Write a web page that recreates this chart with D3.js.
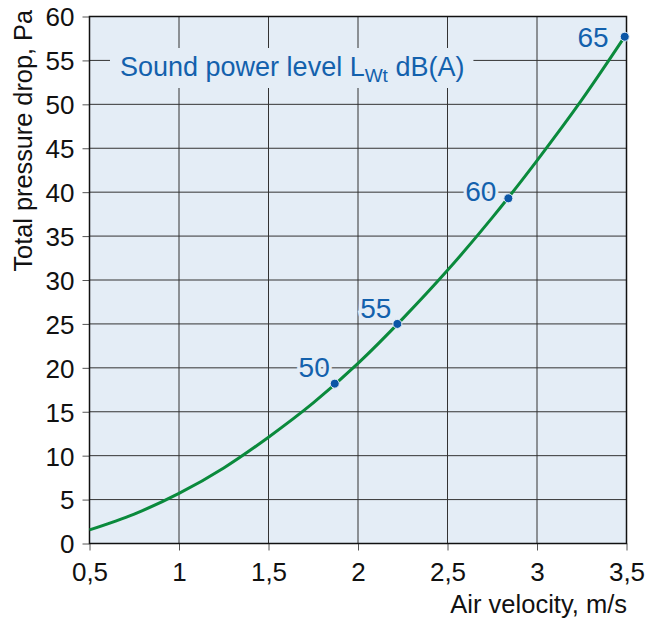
<!DOCTYPE html>
<html><head><meta charset="utf-8">
<script src="https://cdn.jsdelivr.net/npm/d3@7/dist/d3.min.js"></script>
<style>body{margin:0;background:#fff}svg{display:block}text{font-family:"Liberation Sans",Arial,sans-serif}</style>
</head><body><svg id="c" width="645" height="620"></svg>
<script>
// Curve
const velocity = [0.5, 0.75, 1, 1.25, 1.5, 1.75, 2, 2.25, 2.5, 2.75, 3, 3.25, 3.49];
const pressure = [1.55, 3.35, 5.7, 8.6, 12.1, 16.0, 20.5, 25.6, 31.1, 37.1, 43.6, 50.5, 57.7];
// Sound power level markers
const markerV = [1.87, 2.22, 2.84, 3.49];
const markerP = [18.2, 25.0, 39.3, 57.7];
const markerLabel = ["50", "55", "60", "65"];
const xTicks = [0.5, 1, 1.5, 2, 2.5, 3, 3.5];
const yTicks = [0,5,10,15,20,25,30,35,40,45,50,55,60];
// label placement relative to dot (style)
const labelDx = [-5, -6, -12, -16];
const labelDy = [-7, -6, 3, 10];

const svg = d3.select("#c");
const m = {l:89.5, r:626.5, t:16.5, b:543.5};
const x = d3.scaleLinear().domain([0.5,3.5]).range([m.l,m.r]);
const y = d3.scaleLinear().domain([0,60]).range([m.b,m.t]);
const fmt = d => String(d).replace(".", ",");
const bg = "#e4edf6", blue = "#1361ad";

svg.append("rect").attr("x",m.l).attr("y",m.t).attr("width",m.r-m.l).attr("height",m.b-m.t).attr("fill",bg);

// grid
svg.append("g").selectAll("line").data(xTicks.slice(1,-1)).join("line")
  .attr("x1",d=>x(d)).attr("x2",d=>x(d)).attr("y1",m.t).attr("y2",m.b)
  .attr("stroke","#333").attr("stroke-width",1);
svg.append("g").selectAll("line").data(yTicks.slice(1,-1)).join("line")
  .attr("x1",m.l).attr("x2",m.r).attr("y1",d=>y(d)).attr("y2",d=>y(d))
  .attr("stroke","#333").attr("stroke-width",1);

// axes
const ax = svg.append("g").attr("transform",`translate(0,${m.b})`)
  .call(d3.axisBottom(x).tickValues(xTicks).tickFormat(fmt).tickSize(7).tickPadding(12));
const ay = svg.append("g").attr("transform",`translate(${m.l},0)`)
  .call(d3.axisLeft(y).tickValues(yTicks).tickSize(7).tickPadding(8));
[ax,ay].forEach(a=>{
  a.select(".domain").remove();
  a.selectAll("line").attr("stroke","#555");
  a.selectAll("text").attr("font-size",26).attr("fill","#111")
   .style("font-family","'Liberation Sans',Arial,sans-serif");
});
ay.selectAll("text").attr("dy","0.36em");

// frame
svg.append("rect").attr("x",m.l).attr("y",m.t).attr("width",m.r-m.l).attr("height",m.b-m.t)
  .attr("fill","none").attr("stroke","#111").attr("stroke-width",1.5);

// title inside
const tg = svg.append("g");
const t = tg.append("text").attr("x",120).attr("y",76).attr("font-size",27).attr("fill",blue);
t.append("tspan").text("Sound power level L");
t.append("tspan").text("Wt").attr("font-size",19).attr("dy",6);
t.append("tspan").text(" dB(A)").attr("dy",-6);
const bb = t.node().getBBox();
tg.insert("rect","text").attr("x",bb.x-10).attr("y",bb.y-4).attr("width",bb.width+19).attr("height",bb.height+6).attr("fill",bg);

// curve
const pts = velocity.map((v,i)=>[v,pressure[i]]);
svg.append("path").datum(pts)
  .attr("d", d3.line().x(d=>x(d[0])).y(d=>y(d[1])).curve(d3.curveMonotoneX))
  .attr("fill","none").attr("stroke","#0a8a3c").attr("stroke-width",3);

// markers
const mk = markerV.map((v,i)=>({v,p:markerP[i],l:markerLabel[i],dx:labelDx[i],dy:labelDy[i]}));
svg.append("g").selectAll("text").data(mk).join("text")
  .attr("x",d=>x(d.v)+d.dx).attr("y",d=>y(d.p)+d.dy).attr("text-anchor","end")
  .attr("font-size",28).attr("fill",blue).text(d=>d.l)
  .attr("stroke",bg).attr("stroke-width",6).attr("paint-order","stroke");
svg.append("g").selectAll("circle").data(mk).join("circle")
  .attr("cx",d=>x(d.v)).attr("cy",d=>y(d.p)).attr("r",4.5).attr("fill","#0b56a6")
  .attr("stroke",bg).attr("stroke-width",1);

// axis titles
svg.append("text").attr("x",627).attr("y",613).attr("text-anchor","end").attr("font-size",25.5)
  .attr("fill","#111").text("Air velocity, m/s");
svg.append("text").attr("transform","translate(32,10) rotate(-90)").attr("text-anchor","end")
  .attr("font-size",25.3).attr("fill","#111").text("Total pressure drop, Pa");
</script></body></html>
